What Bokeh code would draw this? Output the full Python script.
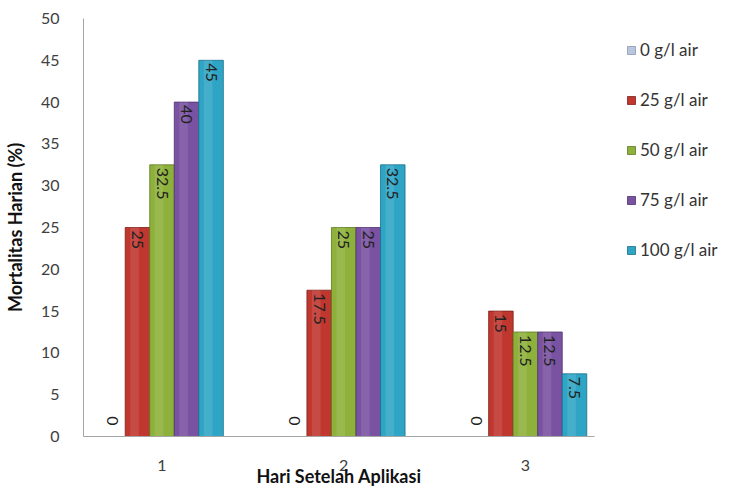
import math
from bokeh.plotting import figure
from bokeh.models import (ColumnDataSource, Legend, LegendItem, Range1d, FixedTicker,
                          CDSView, BooleanFilter)
from bokeh.transform import dodge
from bokeh.core.properties import value
from bokeh.embed import file_html
from bokeh.resources import INLINE

# ---- data ----
days = [1, 2, 3]
day_labels = ["1", "2", "3"]
series_names = ["0 g/l air", "25 g/l air", "50 g/l air", "75 g/l air", "100 g/l air"]
s0 = [0, 0, 0]
s25 = [25, 17.5, 15]
s50 = [32.5, 25, 12.5]
s75 = [40, 25, 12.5]
s100 = [45, 32.5, 7.5]
series_values = [s0, s25, s50, s75, s100]
colors = ["#b9c6de", "#c0372f", "#8eb13b", "#7a52a2", "#2fa5c6"]
edges = ["#8c98ad", "#7d1f1a", "#5d7a22", "#4e3170", "#1b6f88"]

FONT = "Lato"
bar_w = 0.135

p = figure(frame_width=511, frame_height=418, output_backend="svg", toolbar_location=None,
           x_range=Range1d(0.568, 3.38), y_range=Range1d(0, 50),
           min_border_left=76, min_border_right=126, min_border_top=18, min_border_bottom=50)
p.outline_line_color = None
p.xgrid.visible = False
p.ygrid.visible = False

legend_items = []
for i, (name, vals) in enumerate(zip(series_names, series_values)):
    labels = [f"{v:g}" for v in vals]
    src = ColumnDataSource(dict(day=days, val=vals, label=labels))
    off = (i - 2) * bar_w
    r = p.vbar(x=dodge("day", off), top="val", width=bar_w, source=src,
               fill_color=colors[i], line_color=edges[i], line_width=0.8)
    # subtle highlight to mimic the glossy look
    p.vbar(x=dodge("day", off - bar_w * 0.12), top="val", width=bar_w * 0.35, source=src,
           fill_color="white", fill_alpha=0.10, line_color=None)
    legend_items.append(LegendItem(label=name, renderers=[r]))

    nz = CDSView(filter=BooleanFilter([v > 0 for v in vals]))
    zz = CDSView(filter=BooleanFilter([v == 0 for v in vals]))
    p.text(x=dodge("day", off), y="val", text="label", source=src, view=nz,
           angle=-math.pi / 2, text_align="left", text_baseline="middle",
           y_offset=3, text_font=value(FONT), text_font_size="16px", text_color="#222222")
    p.text(x=dodge("day", off), y="val", text="label", source=src, view=zz,
           angle=-math.pi / 2, text_align="right", text_baseline="middle",
           y_offset=-11, text_font=value(FONT), text_font_size="16px", text_color="#222222")

# axes
p.xaxis.ticker = FixedTicker(ticks=days)
p.xaxis.major_label_overrides = {d: l for d, l in zip(days, day_labels)}
p.yaxis.ticker = FixedTicker(ticks=list(range(0, 51, 5)))
for ax in (p.xaxis, p.yaxis):
    ax.axis_line_color = "#a6a6a6"
    ax.axis_line_width = 1
    ax.major_tick_line_color = None
    ax.minor_tick_line_color = None
    ax.major_label_text_font = FONT
    ax.major_label_text_font_size = "16px"
    ax.major_label_text_color = "#404040"
    ax.axis_label_text_font = FONT
    ax.axis_label_text_font_style = "bold"
    ax.axis_label_text_color = "#111111"

p.xaxis.axis_label = "Hari Setelah Aplikasi"
p.xaxis.axis_label_text_font_size = "18px"
p.xaxis.major_label_standoff = 17
p.xaxis.axis_label_standoff = -9
p.yaxis.axis_label = "Mortalitas Harian (%)"
p.yaxis.axis_label_text_font_size = "18px"
p.yaxis.major_label_standoff = 18
p.yaxis.axis_label_standoff = 12

legend = Legend(items=legend_items, location=(32, 176), orientation="vertical",
                spacing=29, padding=0, margin=0, glyph_width=10, glyph_height=10,
                label_standoff=4, label_height=20,
                label_text_font=FONT, label_text_font_size="17px",
                label_text_color="#333333",
                border_line_color=None, background_fill_alpha=0)
p.add_layout(legend, "right")

open("out.html", "w").write(file_html(p, INLINE))
